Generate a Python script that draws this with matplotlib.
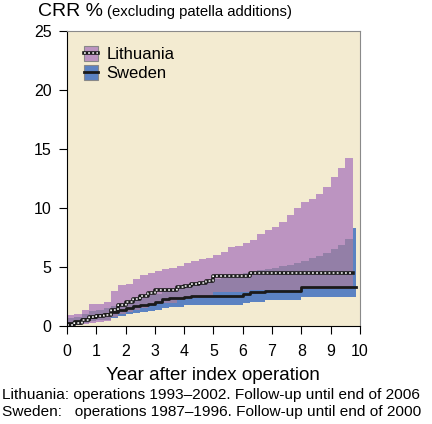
import numpy as np
import matplotlib.pyplot as plt
from matplotlib.patches import Patch
from matplotlib.lines import Line2D

plt.rcParams['font.family'] = ['Liberation Sans', 'DejaVu Sans']

# step positions (years after index operation)
years = [0, 0.25, 0.5, 0.75, 1.0, 1.25, 1.5, 1.75, 2.0, 2.25, 2.5, 2.75,
         3.0, 3.25, 3.5, 3.75, 4.0, 4.25, 4.5, 4.75, 5.0, 5.25, 5.5, 5.75,
         6.0, 6.25, 6.5, 6.75, 7.0, 7.25, 7.5, 7.75, 8.0, 8.25, 8.5, 8.75,
         9.0, 9.25, 9.5, 9.75]
lit_end = 9.78
swe_end = 9.88

lit_mean = [0.1, 0.25, 0.5, 0.8, 0.85, 0.9, 1.4, 1.8, 2.0, 2.3, 2.55, 2.8,
            3.05, 3.05, 3.05, 3.35, 3.4, 3.55, 3.65, 3.8, 4.2, 4.2, 4.2, 4.2,
            4.2, 4.5, 4.5, 4.5, 4.5, 4.5, 4.5, 4.5, 4.5, 4.5, 4.5, 4.5,
            4.5, 4.5, 4.5, 4.5]
lit_low = [0.0, 0.05, 0.15, 0.3, 0.35, 0.4, 0.75, 1.0, 1.15, 1.35, 1.55, 1.75,
           1.95, 1.95, 1.95, 2.2, 2.25, 2.35, 2.45, 2.55, 2.85, 2.85, 2.85, 2.85,
           2.85, 3.05, 3.05, 3.05, 3.05, 3.05, 3.05, 3.05, 3.1, 3.1, 3.1, 3.1,
           3.1, 3.1, 3.1, 3.1]
lit_high = [0.95, 1.0, 1.4, 1.9, 1.9, 2.0, 3.0, 3.5, 3.6, 4.0, 4.3, 4.5,
            4.7, 4.8, 4.9, 5.1, 5.3, 5.5, 5.7, 5.8, 6.0, 6.3, 6.7, 6.8,
            7.0, 7.3, 7.8, 8.1, 8.4, 8.8, 9.4, 10.0, 10.5, 10.8, 11.2, 11.8,
            12.6, 13.4, 14.2, 15.0]

swe_mean = [0.3, 0.4, 0.6, 0.8, 0.9, 1.0, 1.15, 1.35, 1.55, 1.7, 1.75, 1.9,
            2.0, 2.25, 2.35, 2.4, 2.5, 2.55, 2.55, 2.55, 2.55, 2.55, 2.55, 2.55,
            2.7, 2.85, 2.85, 3.0, 3.0, 3.0, 3.0, 3.0, 3.3, 3.3, 3.3, 3.3,
            3.3, 3.3, 3.3, 3.3]
swe_low = [0.0, 0.1, 0.25, 0.4, 0.5, 0.55, 0.7, 0.85, 1.0, 1.1, 1.15, 1.25,
           1.35, 1.55, 1.6, 1.65, 1.75, 1.8, 1.8, 1.8, 1.8, 1.8, 1.8, 1.8,
           1.95, 2.05, 2.05, 2.2, 2.2, 2.2, 2.2, 2.2, 2.45, 2.45, 2.45, 2.45,
           2.45, 2.45, 2.45, 2.45]
swe_high = [0.7, 0.8, 1.05, 1.25, 1.4, 1.5, 1.7, 1.9, 2.15, 2.35, 2.4, 2.6,
            2.75, 3.0, 3.15, 3.2, 3.35, 3.45, 3.6, 3.8, 3.95, 4.1, 4.2, 4.35,
            4.5, 4.65, 4.75, 4.85, 4.95, 5.05, 5.2, 5.35, 5.5, 5.75, 5.95, 6.2,
            6.5, 6.9, 7.4, 8.3]

bg = '#F3EBD1'
purple = '#BC94C1'
blue = '#5B82C2'
overlap = '#937FA7'


def extend(vals, end):
    return np.array(years + [end]), np.array(vals + [vals[-1]])


fig = plt.figure(figsize=(4.32, 4.24), dpi=100)
ax = fig.add_axes([0.155, 0.231, 0.678, 0.696])
ax.set_facecolor(bg)

xs, sl = extend(swe_low, swe_end)
_, sh = extend(swe_high, swe_end)
_, sm = extend(swe_mean, swe_end)
xl, ll = extend(lit_low, lit_end)
_, lh = extend(lit_high, lit_end)
_, lm = extend(lit_mean, lit_end)

ax.fill_between(xs, sl, sh, step='post', color=blue, lw=0)
ax.fill_between(xl, ll, lh, step='post', color=purple, lw=0)
# overlap of both confidence bands
ov_lo = np.maximum(ll, sl[:len(xl)])
ov_hi = np.minimum(lh, sh[:len(xl)])
ax.fill_between(xl, ov_lo, ov_hi, where=ov_hi > ov_lo, step='post',
                color=overlap, lw=0)

ax.step(xs, sm, where='post', color='#1a1a1a', lw=2.0)
ax.step(xl, lm, where='post', color='#1a1a1a', lw=2.6)
ax.step(xl, lm, where='post', color='white', lw=1.1, linestyle=(0, (1.2, 1.5)))

ax.set_xlim(0, 10)
ax.set_ylim(0, 25)
ax.set_xticks(range(0, 11))
ax.set_yticks([0, 5, 10, 15, 20, 25])
ax.tick_params(labelsize=11.5, length=6, width=0.8, direction='out', pad=5)
ax.tick_params(axis='x', pad=7)
for s in ['top', 'right']:
    ax.spines[s].set_color('#8a8a8a')
    ax.spines[s].set_linewidth(0.8)
for s in ['left', 'bottom']:
    ax.spines[s].set_linewidth(0.8)

ax.set_xlabel('Year after index operation', fontsize=13.5, labelpad=6)

h_lit = (Patch(facecolor=purple, edgecolor='#888888', lw=0.8),
         Line2D([], [], color='#1a1a1a', lw=2.6),
         Line2D([], [], color='white', lw=1.1, linestyle=(0, (1.2, 1.5))))
h_swe = (Patch(facecolor=blue, edgecolor='#888888', lw=0.8),
         Line2D([], [], color='#1a1a1a', lw=2.0))
ax.legend([h_lit, h_swe], ['Lithuania', 'Sweden'], loc='upper left',
          frameon=False, fontsize=12, handlelength=0.85, handleheight=1.0,
          handletextpad=0.5, labelspacing=0.18, borderaxespad=0.6,
          bbox_to_anchor=(0.0, 1.005))

fig.text(0.088, 0.962, 'CRR %', fontsize=14, va='baseline')
fig.text(0.248, 0.962, '(excluding patella additions)', fontsize=10.7, va='baseline')

fig.text(0.004, 0.058, 'Lithuania: operations 1993\u20132002. Follow-up until end of 2006',
         fontsize=11.1, va='baseline')
fig.text(0.004, 0.018, 'Sweden:   operations 1987\u20131996. Follow-up until end of 2000',
         fontsize=11.1, va='baseline')

fig.savefig('out.png', dpi=100)
